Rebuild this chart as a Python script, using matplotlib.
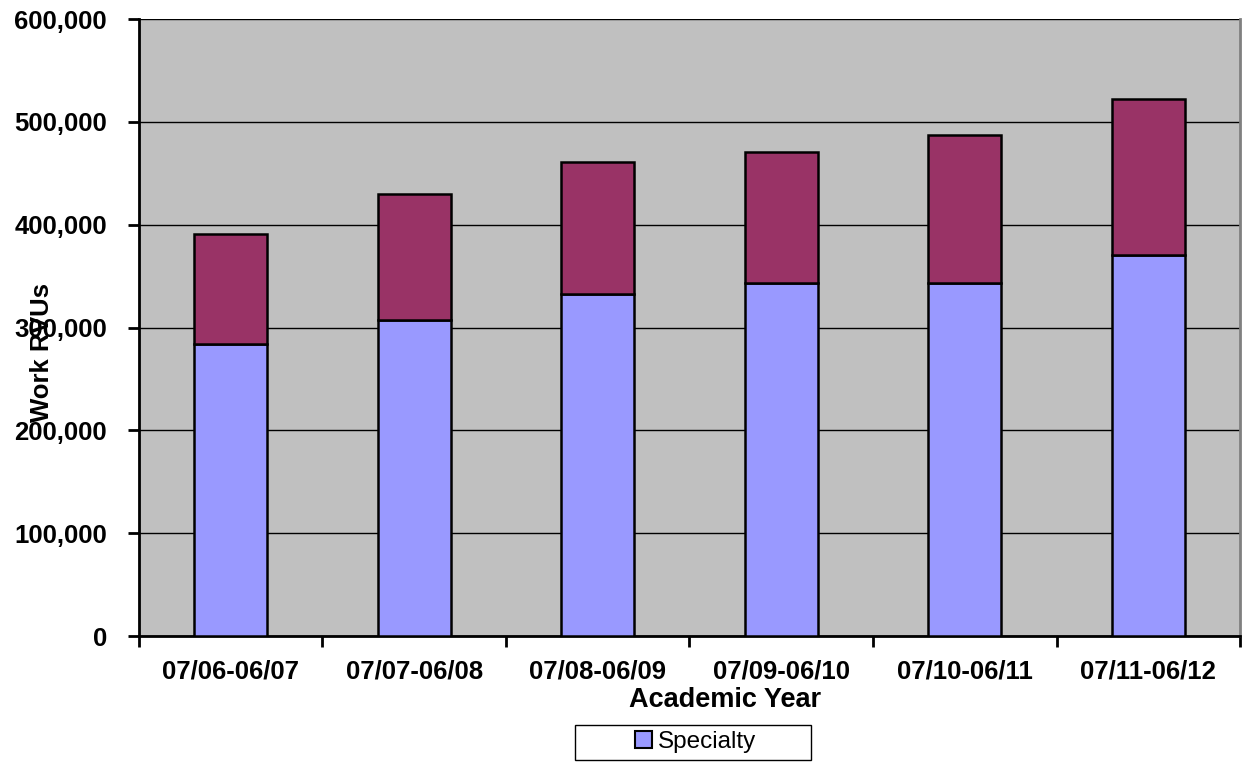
import matplotlib.pyplot as plt
import numpy as np
from matplotlib.ticker import FuncFormatter, MultipleLocator
from matplotlib.patches import Patch, Rectangle

# data
years = ["07/06-06/07", "07/07-06/08", "07/08-06/09", "07/09-06/10", "07/10-06/11", "07/11-06/12"]
specialty = [284000, 307000, 333000, 343000, 343000, 371000]
other = [107000, 123000, 128000, 128000, 144000, 151000]

plt.rcParams['font.family'] = ['Liberation Sans', 'DejaVu Sans']

fig = plt.figure(figsize=(12.43, 7.63), dpi=100)
ax = fig.add_axes([0.1118, 0.1664, 0.8858, 0.8086])
ax.set_facecolor("#C0C0C0")

x = np.arange(len(years))
ax.bar(x, specialty, width=0.4, color="#9999FF", edgecolor="black", linewidth=1.8, zorder=3)
ax.bar(x, other, width=0.4, bottom=specialty, color="#993366", edgecolor="black", linewidth=1.8, zorder=3)

ax.set_xlim(-0.5, len(years) - 0.5)
ax.set_ylim(0, 600000)
ax.yaxis.set_major_locator(MultipleLocator(100000))
ax.yaxis.set_major_formatter(FuncFormatter(lambda v, p: f"{int(v):,}"))
ax.grid(axis="y", color="black", linewidth=1.0, zorder=1)

ax.set_xticks(x)
ax.set_xticklabels(years)
ax.set_xticks(np.arange(len(years) + 1) - 0.5, minor=True)
ax.tick_params(axis="x", which="major", length=0, pad=17, labelsize=18.5)
ax.tick_params(axis="x", which="minor", length=8, width=2, direction="out")
ax.tick_params(axis="y", length=8, width=2, direction="out", pad=15, labelsize=18.5)
for lab in ax.get_xticklabels() + ax.get_yticklabels():
    lab.set_fontweight("bold")

ax.spines["top"].set_visible(False)
ax.spines["right"].set_color("#808080")
ax.spines["right"].set_linewidth(2)
ax.spines["left"].set_linewidth(2)
ax.spines["bottom"].set_linewidth(2)

fig.text(0.5833, 0.083, "Academic Year", ha="center", va="center", fontsize=19.5, fontweight="bold")
fig.text(0.034, 0.538, "Work RVUs", ha="center", va="center", rotation=90, fontsize=18.5, fontweight="bold")

# legend: box drawn by hand so it can be as wide as the reference's
fig.patches.append(Rectangle((575 / 1243, 3 / 763), 236 / 1243, 35 / 763, transform=fig.transFigure,
                             facecolor="white", edgecolor="black", linewidth=1.0))
handles = [Patch(facecolor="#9999FF", edgecolor="black", linewidth=1.5, label="Specialty")]
fig.legend(handles=handles, loc="center", bbox_to_anchor=(0.5595, 0.027), ncol=1,
           fontsize=17.5, frameon=False,
           handlelength=0.7, handleheight=0.7, handletextpad=0.25, borderpad=0.2,
           borderaxespad=0)

fig.savefig("out.png", dpi=100)
